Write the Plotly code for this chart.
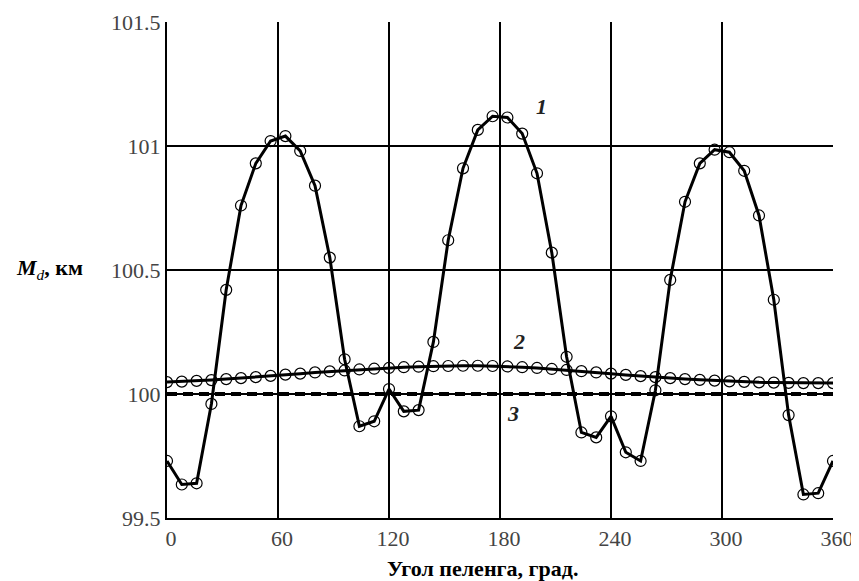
import plotly.graph_objects as go

# Bearing angle, degrees (markers every 8 degrees)
angles = list(range(0, 361, 8))

# Curve 1
curve1 = [99.73, 99.635, 99.64, 99.96, 100.42, 100.76, 100.93, 101.02, 101.04, 100.98,
          100.84, 100.55, 100.14, 99.87, 99.89, 100.02, 99.93, 99.935, 100.21, 100.62,
          100.91, 101.065, 101.12, 101.115, 101.05, 100.89, 100.57, 100.15, 99.845, 99.825,
          99.91, 99.765, 99.73, 100.015, 100.46, 100.775, 100.93, 100.985, 100.975, 100.90,
          100.72, 100.38, 99.915, 99.595, 99.60, 99.73]

# Curve 2
curve2 = [100.048, 100.050, 100.053, 100.056, 100.060, 100.064, 100.068, 100.073, 100.078, 100.082,
          100.087, 100.091, 100.095, 100.099, 100.102, 100.105, 100.108, 100.110, 100.112, 100.113,
          100.114, 100.114, 100.113, 100.111, 100.108, 100.105, 100.101, 100.097, 100.092, 100.087,
          100.082, 100.077, 100.072, 100.068, 100.064, 100.060, 100.057, 100.054, 100.051, 100.049,
          100.047, 100.046, 100.045, 100.044, 100.044, 100.044]

# Curve 3 (reference line)
curve3_x = [0, 360]
curve3 = [100.0, 100.0]

x_ticks = [0, 60, 120, 180, 240, 300, 360]
y_ticks = [99.5, 100, 100.5, 101, 101.5]
y_ticklabels = ["99.5", "100", "100.5", "101", "101.5"]

x_title = "Угол пеленга, град."
y_title = "<b><i>M</i></b><sub><i>d</i></sub><b>, км</b>"

serif = "Liberation Serif, Times New Roman, serif"

# page has an 8px body margin; figure is sized so the plot area lands where the reference has it
W, H = 851, 573
ML, MR, MT, MB = 159, 26, 14, 63
plot_w = W - ML - MR
plot_h = H - MT - MB

fig = go.Figure()

fig.add_trace(go.Scatter(
    x=curve3_x, y=curve3, mode="lines",
    line=dict(color="black", width=4, dash="10px,6px"),
    showlegend=False, hoverinfo="skip"))

fig.add_trace(go.Scatter(
    x=angles, y=curve2, mode="lines+markers",
    line=dict(color="black", width=3),
    marker=dict(symbol="circle-open", size=11, color="black", line=dict(width=1.2)),
    showlegend=False))

fig.add_trace(go.Scatter(
    x=angles, y=curve1, mode="lines+markers",
    line=dict(color="black", width=3),
    marker=dict(symbol="circle-open", size=11, color="black", line=dict(width=1.2)),
    showlegend=False))


def px_x(page_x):
    return (page_x - 8 - ML) / plot_w


def px_y(page_y):
    return (H - MB - (page_y - 8)) / plot_h


fig.update_layout(
    width=W, height=H,
    margin=dict(l=ML, r=MR, t=MT, b=MB),
    paper_bgcolor="white", plot_bgcolor="white",
    font=dict(family=serif, size=22, color="#333333"),
    xaxis=dict(range=[0, 360], tickvals=x_ticks, showgrid=True, gridcolor="black", gridwidth=1.5,
               showline=True, linecolor="black", linewidth=2, ticks="", zeroline=False,
               ticklabelshift=4, automargin=False,
               tickfont=dict(family=serif, size=22, color="#444444")),
    yaxis=dict(range=[99.5, 101.5], tickvals=y_ticks, ticktext=y_ticklabels, showgrid=True,
               gridcolor="black", gridwidth=1.5, showline=True, linecolor="black", linewidth=2,
               ticks="", zeroline=False, ticklabelstandoff=0, automargin=False,
               tickfont=dict(family=serif, size=22, color="#444444")),
    annotations=[
        dict(x=px_x(482), y=px_y(568), xref="paper", yref="paper", text="<b>" + x_title + "</b>",
             showarrow=False, font=dict(family=serif, size=22, color="black"),
             xanchor="center", yanchor="middle"),
        dict(x=px_x(49), y=px_y(269), xref="paper", yref="paper", text=y_title, showarrow=False,
             font=dict(family=serif, size=22, color="black"), xanchor="center", yanchor="middle"),
        dict(x=202.4, y=101.16, xref="x", yref="y", text="<b><i>1</i></b>", showarrow=False,
             font=dict(family=serif, size=22, color="#222222")),
        dict(x=190.3, y=100.212, xref="x", yref="y", text="<b><i>2</i></b>", showarrow=False,
             font=dict(family=serif, size=22, color="#222222")),
        dict(x=187.0, y=99.923, xref="x", yref="y", text="<b><i>3</i></b>", showarrow=False,
             font=dict(family=serif, size=22, color="#222222")),
    ],
)

fig.write_html("out.html")
